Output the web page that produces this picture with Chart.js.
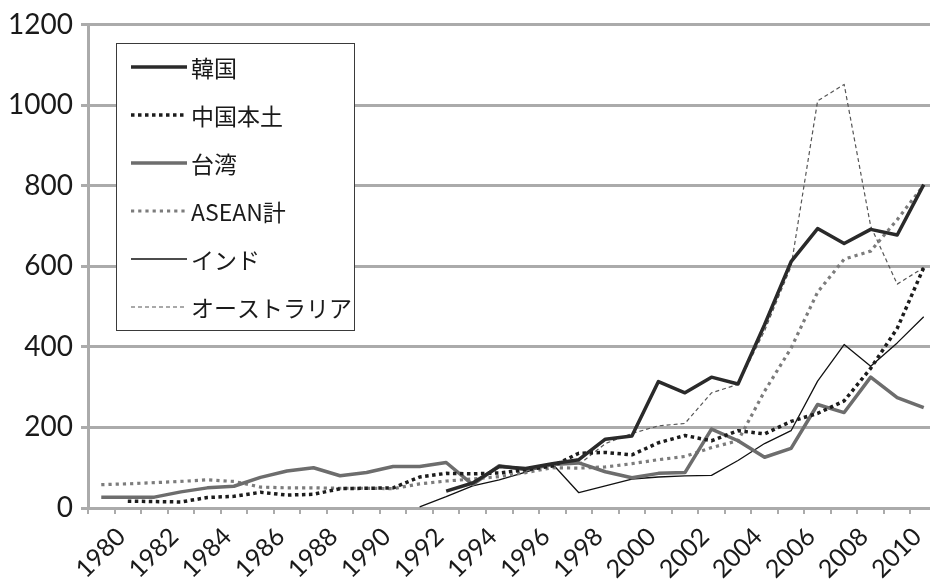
<!DOCTYPE html>
<html>
<head>
<meta charset="utf-8">
<script src="https://cdn.jsdelivr.net/npm/chart.js@4.4.1/dist/chart.umd.min.js"></script>
<style>
  html, body { margin: 0; padding: 0; background: #fff; overflow: hidden; }
  #wrap { position: relative; width: 937px; height: 583px; }
</style>
</head>
<body>
<div id="wrap"><canvas id="c"></canvas></div>
<script>
// Categories: calendar years
const years = ['1980','1981','1982','1983','1984','1985','1986','1987','1988','1989',
               '1990','1991','1992','1993','1994','1995','1996','1997','1998','1999',
               '2000','2001','2002','2003','2004','2005','2006','2007','2008','2009',
               '2010','2011'];
// Years that carry a label on the horizontal axis
const labelledYears = ['1980','1982','1984','1986','1988','1990','1992','1994','1996',
                       '1998','2000','2002','2004','2006','2008','2010'];
// Vertical axis ticks
const yTicks = [0, 200, 400, 600, 800, 1000, 1200];

// Series values (null = no data for that year)
const korea = [null,null,null,null,null,null,null,null,null,null,
               null,null,null,42,62,103,98,110,120,171,
               179,314,286,325,308,455,612,694,657,692,
               678,803];
const chinaMainland = [null,17,16,15,26,29,39,32,34,48,
                       49,50,77,86,85,87,95,104,136,138,
                       132,162,180,167,192,184,215,235,266,347,
                       446,597];
const taiwan = [27,27,27,40,50,54,76,92,100,80,
                88,103,103,113,58,105,95,108,112,90,
                75,86,88,196,167,126,148,257,237,325,
                274,249];
const aseanTotal = [58,60,63,66,70,66,52,50,50,49,
                    49,48,60,67,72,78,88,100,99,102,
                    110,120,128,150,167,290,397,536,618,638,
                    716,802];
const india = [null,null,null,null,null,null,null,null,null,null,
               null,null,3,28,55,70,89,110,38,55,
               72,77,80,81,118,160,192,315,406,352,
               410,475];
const australia = [null,null,null,null,null,null,null,null,null,null,
                   null,null,null,null,null,null,null,null,108,160,
                   185,204,210,286,307,440,600,1011,1052,700,
                   556,597];

const seriesNames = ['韓国', '中国本土', '台湾', 'ASEAN計', 'インド', 'オーストラリア'];

const GRID = '#ababab';

// Boxed legend drawn inside the plot, top-left
const insetLegend = {
  id: 'insetLegend',
  afterDraw(chart) {
    const ctx = chart.ctx;
    const x0 = 116, y0 = 43, w = 238, h = 287;
    ctx.save();
    ctx.fillStyle = '#ffffff';
    ctx.fillRect(x0, y0, w, h);
    ctx.strokeStyle = '#3a3a3a';
    ctx.lineWidth = 1;
    ctx.strokeRect(x0 + 0.5, y0 + 0.5, w, h);
    chart.data.datasets.forEach((ds, i) => {
      const y = 67 + i * 48;
      ctx.beginPath();
      ctx.setLineDash(ds.borderDash || []);
      ctx.lineWidth = ds.borderWidth;
      ctx.strokeStyle = ds.borderColor;
      ctx.lineCap = 'butt';
      ctx.moveTo(131, y);
      ctx.lineTo(187, y);
      ctx.stroke();
      ctx.setLineDash([]);
      ctx.fillStyle = '#1a1a1a';
      ctx.font = '23px "Noto Sans CJK JP", sans-serif';
      ctx.textBaseline = 'middle';
      ctx.textAlign = 'left';
      ctx.fillText(ds.label, 191, y + 1);
    });
    ctx.restore();
  }
};

const mk = (label, data, color, width, dash) => ({
  label, data,
  borderColor: color,
  backgroundColor: color,
  borderWidth: width,
  borderDash: dash,
  borderCapStyle: 'butt',
  borderJoinStyle: 'round',
  pointRadius: 0,
  pointHoverRadius: 0,
  tension: 0,
  fill: false,
  spanGaps: false
});

new Chart(document.getElementById('c'), {
  type: 'line',
  data: {
    labels: years,
    datasets: [
      mk(seriesNames[0], korea, '#2a2a2a', 3.5, []),
      mk(seriesNames[1], chinaMainland, '#1c1c1c', 3.5, [3.5, 3.5]),
      mk(seriesNames[2], taiwan, '#6d6d6d', 3.5, []),
      mk(seriesNames[3], aseanTotal, '#7c7c7c', 3.2, [3.2, 4]),
      mk(seriesNames[4], india, '#111111', 1.3, []),
      mk(seriesNames[5], australia, '#555555', 1.2, [4, 3])
    ]
  },
  options: {
    responsive: true,
    maintainAspectRatio: false,
    animation: false,
    events: [],
    layout: { padding: { left: 0, right: 0, top: 20, bottom: 0 } },
    plugins: { legend: { display: false }, tooltip: { enabled: false } },
    scales: {
      x: {
        type: 'category',
        offset: true,
        grid: {
          offset: true,
          drawOnChartArea: false,
          drawTicks: true,
          tickLength: 6,
          color: GRID,
          lineWidth: 2
        },
        border: { display: true, color: GRID, width: 3 },
        ticks: {
          autoSkip: false,
          maxRotation: 45,
          minRotation: 45,
          labelOffset: 20,
          padding: 8,
          color: '#1a1a1a',
          font: { family: 'Lato, "Open Sans", sans-serif', size: 25 },
          callback(value) {
            const y = this.getLabelForValue(value);
            return labelledYears.includes(y) ? y : '';
          }
        },
        afterFit(scale) {
          scale.height = 75;
          scale.paddingLeft = 0;
          scale.paddingRight = 0;
        }
      },
      y: {
        min: yTicks[0],
        max: yTicks[yTicks.length - 1],
        afterBuildTicks(scale) { scale.ticks = yTicks.map(v => ({ value: v })); },
        grid: { color: GRID, lineWidth: 3, drawTicks: true, tickLength: 7 },
        border: { display: true, color: GRID, width: 3 },
        ticks: {
          padding: 8,
          color: '#1a1a1a',
          font: { family: 'Lato, "Open Sans", sans-serif', size: 28 },
          callback(value) { return String(value); }
        },
        afterFit(scale) { scale.width = 88; }
      }
    }
  },
  plugins: [insetLegend]
});
</script>
</body>
</html>
